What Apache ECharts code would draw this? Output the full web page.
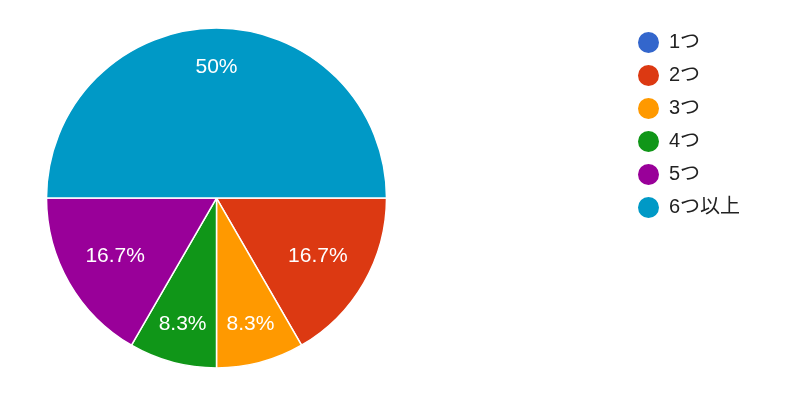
<!DOCTYPE html>
<html><head><meta charset="utf-8">
<script src="https://cdn.jsdelivr.net/npm/echarts@6/dist/echarts.min.js"></script>
<style>html,body{margin:0;padding:0;background:#fff}#c{width:800px;height:396px}</style>
</head><body><div id="c"></div>
<script>
const categories = ['1つ', '2つ', '3つ', '4つ', '5つ', '6つ以上'];
const counts = [0, 2, 1, 1, 2, 6];
const colors = ['#3366cc', '#dc3912', '#ff9900', '#109618', '#990099', '#0099c6'];
// which label ring each slice's percentage sits on (0 = outer ring, 1 = inner ring, -1 = none)
const labelRing = [-1, 1, 0, 0, 1, 0];

const total = counts.reduce((a, b) => a + b, 0);
const pct = v => { const p = v / total * 100; return (Math.round(p * 10) / 10).toString() + '%'; };

const chart = echarts.init(document.getElementById('c'));
const center = [216.5, 198];
const base = {
  type: 'pie', center: center, startAngle: 0, clockwise: true,
  avoidLabelOverlap: false, animation: false, minAngle: 0
};
function labelSeries(ring, radius) {
  return Object.assign({}, base, {
    name: 'labels' + ring, radius: radius, silent: true, tooltip: { show: false },
    z: 5,
    data: categories.map((c, i) => ({
      name: c, value: counts[i],
      itemStyle: { color: 'rgba(0,0,0,0)', borderWidth: 0 },
      label: { show: labelRing[i] === ring && counts[i] > 0, position: 'inside',
        formatter: pct(counts[i]), color: '#fff', fontSize: 21,
        fontFamily: 'Liberation Sans, Arial, sans-serif' },
      labelLine: { show: false }
    }))
  });
}
chart.setOption({
  color: colors,
  legend: {
    orient: 'vertical', left: 636, top: 30, icon: 'circle', padding: 0,
    itemWidth: 23, itemHeight: 23, itemGap: 8,
    textStyle: { fontSize: 20, lineHeight: 20, color: '#222', padding: [0, 0, 0, 4],
      fontFamily: 'Liberation Sans, "Noto Sans CJK JP", sans-serif' },
    data: categories
  },
  series: [
    Object.assign({}, base, {
      name: 'main', radius: [0, 170],
      itemStyle: { borderColor: '#fff', borderWidth: 1.5 },
      label: { show: false }, labelLine: { show: false },
      data: categories.map((c, i) => ({ name: c, value: counts[i] }))
    }),
    labelSeries(0, [86, 170]),
    labelSeries(1, [58, 170])
  ]
});
</script></body></html>
